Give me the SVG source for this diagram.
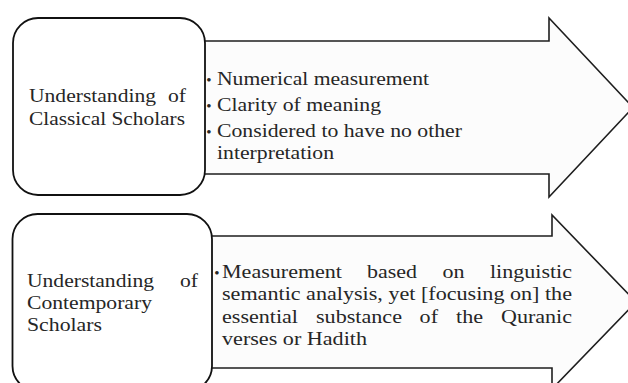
<svg xmlns="http://www.w3.org/2000/svg" width="628" height="383" viewBox="0 0 628 383">
  <style>
    .box { fill: #ffffff; stroke: #111111; stroke-width: 1.8; }
    .arrow { fill: #fcfcfc; stroke: #1e1e1e; stroke-width: 1.6; stroke-linejoin: miter; }
    .t { font-size: 19px; fill: #262626; }
    .b { font-size: 15px; fill: #262626; text-anchor: middle; }
  </style>
  <rect width="628" height="383" fill="#ffffff"/>

  <g id="connectors"></g>

  <g font-family="'Liberation Serif', 'Times New Roman', serif">
  <g id="node-classical-arrow">
    <polygon class="arrow" points="195,41 549,41 549,18 633,107.5 549,197 549,174 195,174"/>
    <text class="b" x="209" y="85">•</text>
    <text class="t" x="217" y="85" textLength="212" lengthAdjust="spacingAndGlyphs">Numerical measurement</text>
    <text class="b" x="209" y="111">•</text>
    <text class="t" x="217" y="111" textLength="164" lengthAdjust="spacingAndGlyphs">Clarity of meaning</text>
    <text class="b" x="209" y="137">•</text>
    <text class="t" x="217" y="137" textLength="245" lengthAdjust="spacingAndGlyphs">Considered to have no other</text>
    <text class="t" x="217" y="159" textLength="117" lengthAdjust="spacingAndGlyphs">interpretation</text>
  </g>

  <g id="node-classical">
    <rect class="box" x="13" y="18" width="192" height="177" rx="25" ry="25"/>
    <text class="t" y="101.5"><tspan x="29" textLength="127" lengthAdjust="spacingAndGlyphs">Understanding</tspan><tspan x="168" textLength="18" lengthAdjust="spacingAndGlyphs">of</tspan></text>
    <text class="t" x="29" y="124.5" textLength="156" lengthAdjust="spacingAndGlyphs">Classical Scholars</text>
  </g>

  <g id="node-contemporary-arrow">
    <polygon class="arrow" points="200,236 552,236 552,215 636,302 552,389 552,368 200,368"/>
    <text class="b" x="217" y="277.5">•</text>
    <text class="t" y="277.5"><tspan x="222" textLength="120" lengthAdjust="spacingAndGlyphs">Measurement</tspan><tspan x="367" textLength="50" lengthAdjust="spacingAndGlyphs">based</tspan><tspan x="442.5" textLength="22" lengthAdjust="spacingAndGlyphs">on</tspan><tspan x="490" textLength="82" lengthAdjust="spacingAndGlyphs">linguistic</tspan></text>
    <text class="t" x="222" y="300" textLength="350" lengthAdjust="spacingAndGlyphs">semantic analysis, yet [focusing on] the</text>
    <text class="t" y="322.5"><tspan x="222" textLength="76" lengthAdjust="spacingAndGlyphs">essential</tspan><tspan x="316" textLength="86" lengthAdjust="spacingAndGlyphs">substance</tspan><tspan x="419.6" textLength="18.4" lengthAdjust="spacingAndGlyphs">of</tspan><tspan x="456" textLength="27" lengthAdjust="spacingAndGlyphs">the</tspan><tspan x="501" textLength="71" lengthAdjust="spacingAndGlyphs">Quranic</tspan></text>
    <text class="t" x="222" y="345" textLength="145" lengthAdjust="spacingAndGlyphs">verses or Hadith</text>
  </g>

  <g id="node-contemporary">
    <rect class="box" x="12.5" y="214" width="199.5" height="177" rx="25" ry="25"/>
    <text class="t" y="286.5"><tspan x="27" textLength="127" lengthAdjust="spacingAndGlyphs">Understanding</tspan><tspan x="180" textLength="18" lengthAdjust="spacingAndGlyphs">of</tspan></text>
    <text class="t" x="27" y="308.5" textLength="125" lengthAdjust="spacingAndGlyphs">Contemporary</text>
    <text class="t" x="27" y="330.5" textLength="75" lengthAdjust="spacingAndGlyphs">Scholars</text>
  </g>
  </g>
</svg>
